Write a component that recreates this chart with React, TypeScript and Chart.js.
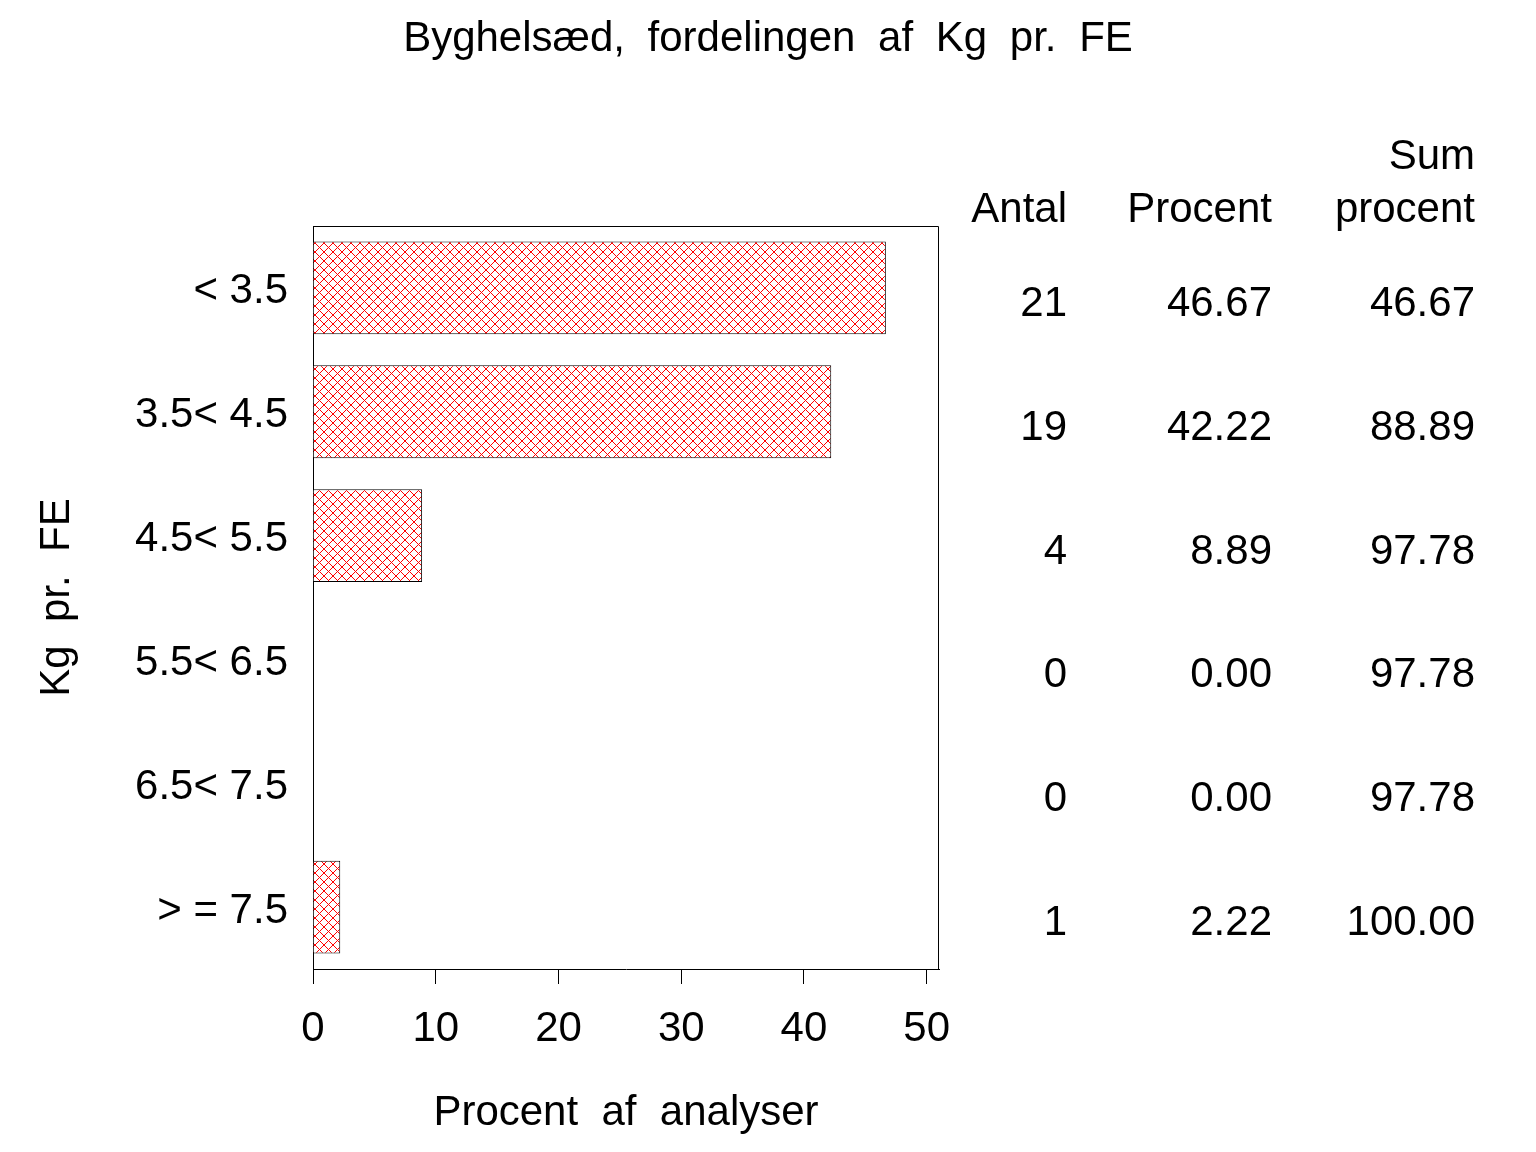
import React, { useEffect, useRef } from "react";
import { Chart, registerables } from "chart.js";

Chart.register(...registerables);

const categories = ["< 3.5", "3.5< 4.5", "4.5< 5.5", "5.5< 6.5", "6.5< 7.5", "> = 7.5"];
const procentValues = [46.67, 42.22, 8.89, 0, 0, 2.22];
const antalValues = ["21", "19", "4", "0", "0", "1"];
const procentLabels = ["46.67", "42.22", "8.89", "0.00", "0.00", "2.22"];
const sumProcentLabels = ["46.67", "88.89", "97.78", "97.78", "97.78", "100.00"];
const xTicks = [0, 10, 20, 30, 40, 50];

const FONT = "'Liberation Sans', Arial, sans-serif";

function makePattern(): CanvasPattern | string {
  const c = document.createElement("canvas");
  c.width = 9;
  c.height = 9;
  const g = c.getContext("2d");
  if (!g) return "red";
  g.fillStyle = "#ffffff";
  g.fillRect(0, 0, 9, 9);
  g.fillStyle = "#ff0000";
  for (let i = 0; i < 9; i++) {
    g.fillRect(i, i, 1, 1);
    g.fillRect(i, 8 - i, 1, 1);
  }
  const p = g.createPattern(c, "repeat");
  return p || "red";
}

export default function App() {
  const ref = useRef<HTMLCanvasElement | null>(null);

  useEffect(() => {
    document.body.style.margin = "0";
    const canvas = ref.current;
    if (!canvas) return;

    const framePlugin = {
      id: "frameAndTable",
      afterDraw(chart: any) {
        const ctx = chart.ctx;
        const a = chart.chartArea;
        ctx.save();
        ctx.strokeStyle = "#000";
        ctx.lineWidth = 1;
        ctx.beginPath();
        ctx.moveTo(Math.round(a.left) + 0.5, Math.round(a.top) + 0.5);
        ctx.lineTo(Math.round(a.right) - 0.5, Math.round(a.top) + 0.5);
        ctx.lineTo(Math.round(a.right) - 0.5, Math.round(a.bottom) + 0.5);
        ctx.stroke();

        // Title
        ctx.fillStyle = "#000";
        ctx.font = `42px ${FONT}`;
        (ctx as any).wordSpacing = "11px";
        ctx.textAlign = "center";
        ctx.textBaseline = "alphabetic";
        ctx.fillText("Byghelsæd, fordelingen af Kg pr. FE", 768, 51);
        (ctx as any).wordSpacing = "0px";

        // Table
        const yScale = chart.scales.y;
        const cols = [1067, 1272, 1475];
        ctx.textAlign = "right";
        ctx.fillText("Sum", cols[2], 169);
        ctx.fillText("Antal", cols[0], 222);
        ctx.fillText("Procent", cols[1], 222);
        ctx.fillText("procent", cols[2], 222);
        for (let i = 0; i < categories.length; i++) {
          const y = yScale.getPixelForValue(i) + 28;
          ctx.fillText(antalValues[i], cols[0], y);
          ctx.fillText(procentLabels[i], cols[1], y);
          ctx.fillText(sumProcentLabels[i], cols[2], y);
        }
        ctx.restore();
      },
    };

    const chart = new Chart(canvas, {
      type: "bar",
      data: {
        labels: categories,
        datasets: [
          {
            data: procentValues,
            backgroundColor: makePattern() as any,
            borderColor: "#000",
            borderWidth: 1,
            barPercentage: 0.75,
            categoryPercentage: 1,
          },
        ],
      },
      options: {
        indexAxis: "y",
        responsive: false,
        animation: false,
        devicePixelRatio: 1,
        layout: { padding: { top: 226, right: 597, left: 0, bottom: 0 } },
        plugins: {
          legend: { display: false },
          title: { display: false },
          tooltip: { enabled: false },
        },
        scales: {
          x: {
            min: 0,
            max: 51,
            afterFit(scale: any) {
              scale.height = 183;
            },
            afterBuildTicks(scale: any) {
              scale.ticks = xTicks.map((v) => ({ value: v }));
            },
            ticks: {
              stepSize: 10,
              includeBounds: false,
              color: "#000",
              font: { family: FONT, size: 42 },
              padding: 20,
              maxRotation: 0,
            },
            grid: {
              drawOnChartArea: false,
              drawTicks: true,
              tickLength: 15,
              color: "#000",
              lineWidth: 1,
            },
            border: { display: true, color: "#000", width: 1 },
            title: {
              display: true,
              text: "Procent  af  analyser",
              color: "#000",
              font: { family: FONT, size: 42 },
              padding: { top: 0, bottom: 13 },
            },
          },
          y: {
            afterFit(scale: any) {
              scale.width = 313;
            },
            ticks: {
              color: "#000",
              font: { family: FONT, size: 42 },
              padding: 25,
              labelOffset: 4,
            },
            grid: { display: false, drawTicks: false },
            border: { display: true, color: "#000", width: 1 },
            title: {
              display: true,
              text: "Kg  pr.  FE",
              color: "#000",
              font: { family: FONT, size: 42 },
              padding: { top: 32, bottom: 0 },
            },
          },
        },
      },
      plugins: [framePlugin],
    });

    return () => chart.destroy();
  }, []);

  return (
    <div style={{ width: 1536, height: 1152, background: "#fff" }}>
      <canvas ref={ref} width={1536} height={1152} style={{ display: "block" }} />
    </div>
  );
}
